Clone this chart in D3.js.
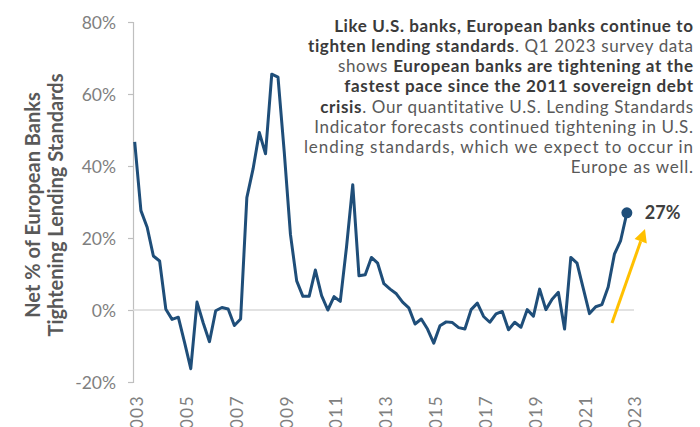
<!DOCTYPE html>
<html>
<head>
<meta charset="utf-8">
<script src="https://cdn.jsdelivr.net/npm/d3@7"></script>
<style>
  body { margin: 0; background: #ffffff; }
  svg text { font-family: Lato, "Open Sans", sans-serif; }
</style>
</head>
<body>
<div id="chart_box"></div>
<script>
// net % of European banks tightening lending standards, quarterly from 2003 Q1
startYear = 2003
tighteningValues = [46.7, 27.6, 23.0, 15.0, 13.6, 0.2, -2.6, -2.0, -9.0, -16.3,
    2.2, -3.6, -8.8, -0.2, 0.7, 0.3, -4.3, -2.5, 31.2, 39.2,
    49.3, 43.4, 65.5, 64.7, 44.0, 21.0, 8.1, 3.8, 3.8, 11.1,
    4.0, 0.0, 3.7, 2.4, 17.5, 34.8, 9.5, 9.8, 14.6, 13.0,
    7.3, 5.8, 4.5, 2.2, 0.6, -3.9, -2.5, -5.3, -9.2, -4.4,
    -3.3, -3.5, -4.9, -5.3, 0.1, 1.9, -1.8, -3.4, -1.1, -0.4,
    -5.5, -3.4, -4.8, 0.1, -1.7, 5.8, 0.1, 3.0, 4.9, -5.3,
    14.6, 13.0, 6.0, -1.0, 0.9, 1.5, 6.4, 15.5, 19.3, 27.0]
yTickValues = [-20, 0, 20, 40, 60, 80]
xTickYears = [2003, 2005, 2007, 2009, 2011, 2013, 2015, 2017, 2019, 2021, 2023]
axisTitleLines = ["Net % of European Banks", "Tightening Lending Standards"]
// each line is a list of [isBold, text] pieces
noteLines = [
    [[true, "Like U.S. banks, European banks continue to"]],
    [[true, "tighten lending standards"], [false, ". Q1 2023 survey data"]],
    [[false, "shows "], [true, "European banks are tightening at the"]],
    [[true, "fastest pace since the 2011 sovereign debt"]],
    [[true, "crisis"], [false, ". Our quantitative U.S. Lending Standards"]],
    [[false, "Indicator forecasts continued tightening in U.S."]],
    [[false, "lending standards, which we expect to occur in"]],
    [[false, "Europe as well."]]
]
// where each note line starts on the left (layout only)
noteLeftEdges = [333, 307, 337, 343, 319, 313, 303, 570]

width = 700
height = 427
lineColor = "#1f4e79"
noteRight = 693

function draw_chart() {
    const points = tighteningValues.map((v, i) => ({ t: startYear + i / 4, v: v }))
    const lastPoint = points[points.length - 1]

    const svg = d3.select("#chart_box").append("svg")
        .attr("width", width)
        .attr("height", height)

    const x = d3.scaleLinear()
        .domain([2003, 2023])
        .range([134.7, 633.1])

    const y = d3.scaleLinear()
        .domain([-20, 80])
        .range([382, 22])

    // y axis
    const yAxis = svg.append("g")
        .attr("transform", "translate(133,0)")
        .call(d3.axisLeft(y).tickValues(yTickValues).tickSize(5).tickPadding(12).tickFormat(d => d + "%"))
    yAxis.select(".domain").attr("stroke", "#bfbfbf").attr("stroke-width", 1.2)
    yAxis.selectAll(".tick line").attr("stroke", "#bfbfbf").attr("stroke-width", 1.2)
    yAxis.selectAll(".tick text")
        .attr("fill", "#7f7f7f")
        .style("font-size", "17.5px")
        .attr("dy", "0.36em")

    // zero line
    svg.append("line")
        .attr("x1", 133).attr("x2", 634)
        .attr("y1", y(0)).attr("y2", y(0))
        .attr("stroke", "#d9d9d9")
        .attr("stroke-width", 1.5)

    // x labels, rotated; the first digit runs past the bottom edge as in the original
    svg.append("g").selectAll("text")
        .data(xTickYears)
        .join("text")
        .attr("transform", d => "translate(" + (x(d) + 2) + ",395) rotate(-90)")
        .attr("text-anchor", "end")
        .attr("dy", "0.36em")
        .attr("fill", "#7f7f7f")
        .style("font-size", "17.5px")
        .style("letter-spacing", "1.3px")
        .text(d => d)

    // axis title
    svg.append("text")
        .attr("transform", "translate(33,205) rotate(-90)")
        .attr("text-anchor", "middle")
        .attr("fill", "#595959")
        .style("font-size", "20px")
        .style("font-weight", "bold")
        .selectAll("tspan")
        .data(axisTitleLines)
        .join("tspan")
        .attr("x", 0)
        .attr("dy", (d, i) => i == 0 ? "0.36em" : "23px")
        .text(d => d)

    // series line
    const line = d3.line()
        .x(d => x(d.t))
        .y(d => y(d.v))

    svg.append("path")
        .attr("d", line(points))
        .attr("fill", "none")
        .attr("stroke", lineColor)
        .attr("stroke-width", 3)
        .attr("stroke-linejoin", "round")

    svg.append("circle")
        .attr("cx", x(lastPoint.t))
        .attr("cy", y(lastPoint.v))
        .attr("r", 5.5)
        .attr("fill", lineColor)

    svg.append("text")
        .attr("x", x(lastPoint.t) + 18)
        .attr("y", y(lastPoint.v))
        .attr("dy", "0.36em")
        .attr("fill", "#404040")
        .style("font-size", "18px")
        .style("font-weight", "bold")
        .text(Math.round(lastPoint.v) + "%")

    // yellow arrow
    const arrowStart = [612, 323]
    const arrowTip = [645, 229]
    const ang = Math.atan2(arrowTip[1] - arrowStart[1], arrowTip[0] - arrowStart[0])
    const headLen = 13, headHalf = 6.5
    const baseX = arrowTip[0] - headLen * Math.cos(ang)
    const baseY = arrowTip[1] - headLen * Math.sin(ang)
    svg.append("line")
        .attr("x1", arrowStart[0]).attr("y1", arrowStart[1])
        .attr("x2", baseX).attr("y2", baseY)
        .attr("stroke", "#ffc000")
        .attr("stroke-width", 3)
    svg.append("path")
        .attr("d", "M" + arrowTip[0] + "," + arrowTip[1] +
            "L" + (baseX + headHalf * Math.sin(ang)) + "," + (baseY - headHalf * Math.cos(ang)) +
            "L" + (baseX - headHalf * Math.sin(ang)) + "," + (baseY + headHalf * Math.cos(ang)) + "Z")
        .attr("fill", "#ffc000")

    // note text top right, spaced out so each line spans the same width as the original
    const note = svg.append("g")
    noteLines.forEach(function (pieces, i) {
        const t = note.append("text")
            .attr("x", noteRight)
            .attr("y", 32.3 + i * 20.06)
            .attr("text-anchor", "end")
            .style("font-size", "17px")
        let nChars = 0
        for (const p of pieces) {
            t.append("tspan")
                .attr("fill", p[0] ? "#3a3a3a" : "#595959")
                .style("font-weight", p[0] ? "bold" : "normal")
                .text(p[1])
            nChars += p[1].length
        }
        const w = t.node().getBBox().width
        const target = noteRight - noteLeftEdges[i]
        const ls = (target - w) / nChars
        t.style("letter-spacing", ls + "px")
        // letter-spacing also adds after the last glyph, pull it back
        t.attr("x", noteRight + ls)
    })
}

draw_chart()
</script>
</body>
</html>
